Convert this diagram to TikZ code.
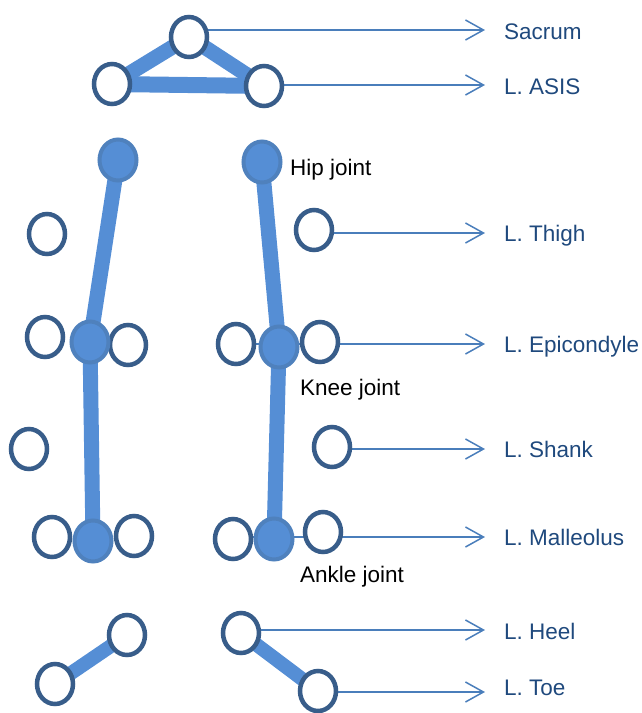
\documentclass[tikz,border=0pt]{standalone}
\usepackage{fontspec}
\setmainfont{Liberation Sans}
\usetikzlibrary{shapes.geometric,arrows.meta}
\pgfdeclarelayer{background}
\pgfsetlayers{background,main}
\definecolor{mk}{HTML}{385D8A}
\definecolor{bone}{HTML}{558ED5}
\definecolor{jring}{HTML}{4F81BD}
\definecolor{arr}{HTML}{4A7EBB}
\definecolor{lab}{HTML}{1F497D}
\tikzset{
  marker/.style={ellipse,draw=mk,fill=white,line width=4.5pt,inner sep=0pt,minimum width=36pt,minimum height=40pt},
  joint/.style={ellipse,draw=jring,fill=bone,line width=4pt,inner sep=0pt,minimum width=37pt,minimum height=41pt},
  bar/.style={line width=15pt,bone},
  ptr/.style={line width=1.5pt,arr,-{Straight Barb[length=18pt,width=20pt,line width=1.5pt]}},
  blab/.style={anchor=base west,inner sep=0pt,text=lab,font=\fontsize{22.5}{26}\selectfont},
  klab/.style={anchor=base west,inner sep=0pt,text=black,font=\fontsize{22.5}{26}\selectfont}
}
\begin{document}
\begin{tikzpicture}[x=1pt,y=-1pt]
\useasboundingbox (0,0) rectangle (641,713);
% markers
\node[marker] (sac) at (189,37) {};
\node[marker] (asisL) at (112,84) {};
\node[marker] (asisR) at (264,86) {};
\node[marker] (thL) at (47,234) {};
\node[marker] (thR) at (314,230) {};
\node[marker] (knLa) at (45,337) {};
\node[marker] (knLb) at (128,345) {};
\node[marker] (knRa) at (236,344) {};
\node[marker] (knRb) at (320,342) {};
\node[marker] (shL) at (29,449) {};
\node[marker] (shR) at (332,447) {};
\node[marker] (anLa) at (52,537) {};
\node[marker] (anLb) at (134,536) {};
\node[marker] (anRa) at (233,539) {};
\node[marker] (anRb) at (323,532) {};
\node[marker] (ftLa) at (127,635) {};
\node[marker] (ftLb) at (55,684) {};
\node[marker] (heel) at (241,633) {};
\node[marker] (toe) at (318,691) {};
% joints
\node[joint] (hipL) at (118,160) {};
\node[joint] (hipR) at (262,162) {};
\node[joint] (kneeL) at (90,342) {};
\node[joint] (kneeR) at (279,347) {};
\node[joint] (ankL) at (93,541) {};
\node[joint] (ankR) at (274,539) {};
% arrow tips
\coordinate (tSac) at (485,30);
\coordinate (tAsis) at (485,85);
\coordinate (tTh) at (485,233);
\coordinate (tEp) at (485,344);
\coordinate (tSh) at (485,449);
\coordinate (tMa) at (485,537);
\coordinate (tHe) at (485,630);
\coordinate (tTo) at (485,692);
\begin{pgfonlayer}{background}
\draw[bar] (sac.center) -- (asisL.center);
\draw[bar] (sac.center) -- (asisR.center);
\draw[bar,line width=16pt] (asisL.center) -- (asisR.center);
\draw[bar] (hipL.center) -- (kneeL.center);
\draw[bar] (kneeL.center) -- (ankL.center);
\draw[bar] (hipR.center) -- (kneeR.center);
\draw[bar] (kneeR.center) -- (ankR.center);
\draw[bar,line width=14pt] (ftLa.center) -- (ftLb.center);
\draw[bar,line width=14pt] (heel.center) -- (toe.center);
\draw[ptr] (sac.center |- tSac) -- (tSac);
\draw[ptr] (asisR.center |- tAsis) -- (tAsis);
\draw[ptr] (thR.center |- tTh) -- (tTh);
\draw[ptr] (knRa.center |- tEp) -- (tEp);
\draw[ptr] (shR.center |- tSh) -- (tSh);
\draw[ptr] (anRa.center |- tMa) -- (tMa);
\draw[ptr] (heel.center |- tHe) -- (tHe);
\draw[ptr] (toe.center |- tTo) -- (tTo);
\end{pgfonlayer}
% labels
\node[blab] (lSac) at (504,39) {Sacrum};
\node[blab] (lAsis) at (504,94) {L. ASIS};
\node[blab] (lTh) at (504,241) {L. Thigh};
\node[blab] (lEp) at (504,352) {L. Epicondyle};
\node[blab] (lSh) at (504,457) {L. Shank};
\node[blab] (lMa) at (504,545) {L. Malleolus};
\node[blab] (lHe) at (504,639) {L. Heel};
\node[blab] (lTo) at (504,695) {L. Toe};
\node[klab] (lHip) at (290,175) {Hip joint};
\node[klab] (lKnee) at (300,395) {Knee joint};
\node[klab] (lAnk) at (300,582) {Ankle joint};
\end{tikzpicture}
\end{document}
